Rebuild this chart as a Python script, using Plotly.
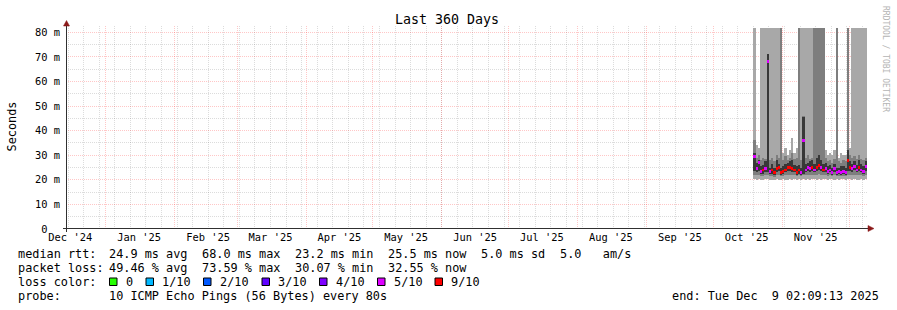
import pandas as pd
import plotly.graph_objects as go

# ---------------- data ----------------
RANGE_START = "2024-12-14 02:09:13"
RANGE_END = "2025-12-09 02:09:13"
FIRST_DAY = "2025-10-19 12:00"          # centre of the first daily sample
Y_MAX = 82.56                            # ms, graph upper edge
TOP = 81.7                               # ms, pings clipped at the graph limit

median_ms = [29.5, 24.5, 27.0, 23.5, 24.0, 24.5, 68.0, 23.5, 24.0, 23.0,
             24.5, 25.0, 23.0, 23.5, 24.0, 25.0, 25.0, 24.5, 24.0, 23.0,
             24.0, 23.0, 36.0, 24.0, 25.0, 24.5, 25.0, 24.0, 25.0, 26.0,
             25.0, 24.0, 24.5, 23.5, 24.0, 23.0, 24.5, 23.0, 23.5, 23.0,
             23.5, 23.0, 28.0, 25.0, 24.5, 25.5, 24.0, 25.0, 24.0, 23.5, 25.5]
loss_pct = [48, 46, 50, 45, 58, 47, 50, 44, 62, 66,
            60, 70, 64, 68, 59, 63, 72, 61, 65, 67,
            60, 48, 50, 46, 45, 49, 57, 47, 60, 64,
            48, 58, 46, 42, 45, 44, 47, 43, 45, 41,
            44, 46, 66, 59, 45, 48, 44, 56, 45, 43, 45]
# outer smoke layer (min .. max ping)
smoke1_lo = [20.5, 20.0, 20.5, 20.0, 19.8, 20.2, 20.5, 20.0, 19.8, 20.0,
             20.3, 19.8, 20.0, 20.5, 20.0, 19.8, 20.2, 20.0, 20.5, 20.0,
             20.2, 19.8, 20.5, 20.0, 20.3, 20.0, 20.5, 20.2, 20.0, 20.3,
             20.0, 20.2, 20.5, 20.0, 20.3, 20.5, 20.0, 20.2, 20.0, 20.5,
             20.3, 20.0, 20.5, 20.2, 20.0, 20.3, 19.8, 20.0, 20.3, 20.0, 20.5]
smoke1_hi = [TOP, 34.0, 33.0, TOP, TOP, TOP, TOP, TOP, TOP, TOP,
             TOP, TOP, TOP, 31.0, 33.0, 30.0, 32.0, 37.0, 31.0, 33.0,
             TOP, TOP, TOP, TOP, TOP, TOP, TOP, TOP, TOP, TOP,
             TOP, TOP, 32.0, 30.0, 31.0, 30.0, 32.0, TOP, 29.0, 31.0,
             30.0, 30.0, TOP, 33.0, TOP, TOP, TOP, TOP, TOP, TOP, TOP]
# middle smoke layer
smoke2_lo = [22.0, 21.8, 22.0, 21.5, 21.5, 21.8, 22.0, 21.5, 21.5, 21.3,
             21.8, 22.0, 21.5, 21.5, 21.8, 22.0, 22.0, 21.8, 21.8, 21.5,
             21.8, 21.5, 22.0, 21.8, 22.0, 21.8, 22.0, 21.8, 22.0, 22.5,
             22.0, 21.8, 22.0, 21.5, 21.8, 21.5, 21.8, 21.5, 21.5, 21.5,
             21.5, 21.5, 22.0, 22.0, 21.8, 22.0, 21.8, 22.0, 21.8, 21.5, 22.0]
smoke2_hi = [36.0, 29.0, 30.0, 28.0, 29.0, 28.5, 71.0, 28.0, 29.0, 27.5,
             30.0, 29.0, TOP, 28.0, 29.5, 28.0, 29.0, 31.0, 28.5, 29.0,
             TOP, 28.0, 46.0, 29.0, 30.0, 28.5, 29.0, TOP, TOP, TOP,
             TOP, TOP, 29.0, 27.5, 28.0, 27.0, 28.5, TOP, 27.5, 27.0,
             28.0, 27.5, TOP, 30.0, 29.0, 29.5, 28.5, 30.0, 28.5, 28.0, 29.0]
# inner (darkest) smoke layer
smoke3_lo = [23.5, 23.0, 23.5, 22.5, 22.5, 23.0, 23.0, 22.5, 22.5, 22.0,
             23.0, 23.5, 22.0, 22.5, 23.0, 23.5, 23.5, 23.0, 23.0, 22.0,
             22.5, 22.0, 22.5, 23.0, 23.5, 23.0, 23.5, 23.0, 23.5, 24.0,
             23.5, 23.0, 23.0, 22.5, 23.0, 22.0, 23.0, 22.0, 22.5, 22.0,
             22.5, 22.0, 23.5, 23.5, 23.0, 24.0, 23.0, 23.5, 23.0, 22.5, 23.5]
smoke3_hi = [31.0, 27.0, 28.0, 25.5, 26.0, 27.5, 71.0, 25.0, 26.5, 25.0,
             28.0, 26.5, 25.0, 25.5, 26.5, 27.0, 27.5, 28.0, 26.0, 25.5,
             26.0, 25.0, 45.5, 26.5, 27.0, 27.5, 28.0, 26.5, 29.0, 30.0,
             28.0, 26.5, 27.0, 25.5, 26.0, 25.0, 26.5, 25.0, 25.0, 25.5,
             25.5, 25.0, 32.0, 27.5, 26.5, 27.5, 26.0, 28.0, 26.5, 25.5, 27.5]

y_ticks = [0, 10, 20, 30, 40, 50, 60, 70, 80]
y_tick_text = ["0\u00a0\u00a0", "10 m", "20 m", "30 m", "40 m", "50 m", "60 m", "70 m", "80 m"]
y_minor = [5, 15, 25, 35, 45, 55, 65, 75]
month_labels = ["Dec '24", "Jan '25", "Feb '25", "Mar '25", "Apr '25", "May '25",
                "Jun '25", "Jul '25", "Aug '25", "Sep '25", "Oct '25", "Nov '25"]

loss_legend = [("0", "#26ff00"), ("1/10", "#00b8ff"), ("2/10", "#0059ff"),
               ("3/10", "#5e00ff"), ("4/10", "#7e00ff"), ("5/10", "#dd00ff"),
               ("9/10", "#ff0000")]
loss_thresholds = [0, 10, 20, 30, 40, 50, 90]

# ---------------- helpers ----------------
FONT = "DejaVu Sans Mono"
W, H = 897, 310
ML, MR, MT, MB = 66, 30, 26, 81
PW, PH = W - ML - MR, H - MT - MB


def PX(x):
    return (x - ML) / PW


def PY(y):
    return (H - MB - y) / PH


def loss_color(p):
    for thr, (_, col) in zip(loss_thresholds, loss_legend):
        if p <= thr:
            return col
    return loss_legend[-1][1]


days = pd.date_range(FIRST_DAY, periods=len(median_ms), freq="D")
DAY_MS = 86400000

month_starts = pd.date_range("2025-01-01", "2025-12-01", freq="MS")
label_pos = pd.date_range("2024-12-01", periods=len(month_labels), freq="MS") + pd.Timedelta(days=15)
sundays = pd.date_range("2024-12-15", "2025-12-08", freq="7D")

fig = go.Figure()


def layer(lo, hi, color, xaxis="x"):
    fig.add_trace(go.Bar(
        x=days, base=lo, y=[h - l for l, h in zip(lo, hi)],
        width=DAY_MS, marker=dict(color=color, line=dict(width=0)),
        hoverinfo="skip", showlegend=False, xaxis=xaxis, yaxis="y"))


layer(smoke1_lo, smoke1_hi, "#a8a8a8")
layer(smoke2_lo, smoke2_hi, "#7e7e7e")
layer(smoke3_lo, smoke3_hi, "#383838")

# median line, coloured by loss
fig.add_trace(go.Bar(
    x=days, base=[m - 0.6 for m in median_ms], y=[1.2] * len(median_ms),
    width=DAY_MS, marker=dict(color=[loss_color(p) for p in loss_pct], line=dict(width=0)),
    hoverinfo="skip", showlegend=False, xaxis="x2", yaxis="y"))

RED_GRID = "rgba(255,0,0,0.22)"
GREY_GRID = "rgba(95,95,95,0.22)"
DASH = "1px,1px"

fig.update_layout(
    width=W, height=H, margin=dict(l=ML, r=MR, t=MT, b=MB, pad=0),
    paper_bgcolor="white", plot_bgcolor="white",
    barmode="overlay", bargap=0,
    font=dict(family=FONT, color="black"),
    xaxis=dict(type="date", range=[RANGE_START, RANGE_END], domain=[0, 1],
               tickmode="array", tickvals=month_starts, showticklabels=False,
               showgrid=True, gridcolor=RED_GRID, griddash=DASH, gridwidth=1,
               ticks="", showline=False, zeroline=False,
               minor=dict(tickmode="array", tickvals=sundays, showgrid=True,
                          gridcolor=GREY_GRID, griddash=DASH, gridwidth=1, ticks="")),
    xaxis2=dict(type="date", overlaying="x", matches="x", anchor="y", side="bottom",
                range=[RANGE_START, RANGE_END],
                tickmode="array", tickvals=label_pos, ticktext=month_labels,
                showgrid=False, ticks="", showline=False, zeroline=False,
                ticklabelstandoff=1,
                tickfont=dict(family=FONT, size=10.4, color="black")),
    yaxis=dict(range=[0, Y_MAX], tickmode="array", tickvals=y_ticks, ticktext=y_tick_text,
               showgrid=True, gridcolor=RED_GRID, griddash=DASH, gridwidth=1,
               ticks="", showline=False, zeroline=False, ticklabelstandoff=5,
               tickfont=dict(family=FONT, size=10.4, color="black"),
               minor=dict(tickmode="array", tickvals=y_minor, showgrid=True,
                          gridcolor=GREY_GRID, griddash=DASH, gridwidth=1, ticks="")),
)

shapes = []
AXIS_COL = "#303030"
ARROW_COL = "#8b1a1a"
# axis lines
shapes.append(dict(type="line", xref="paper", yref="paper",
                   x0=PX(63), x1=PX(869), y0=PY(228.5), y1=PY(228.5),
                   line=dict(color=AXIS_COL, width=1)))
shapes.append(dict(type="line", xref="paper", yref="paper",
                   x0=PX(66.5), x1=PX(66.5), y0=PY(232), y1=PY(25),
                   line=dict(color=AXIS_COL, width=1)))
# arrows
shapes.append(dict(type="path", xref="paper", yref="paper",
                   path=f"M {PX(63.5)} {PY(26)} L {PX(66.5)} {PY(20.5)} L {PX(69.5)} {PY(26)} Z",
                   fillcolor=ARROW_COL, line=dict(color=ARROW_COL, width=0.5)))
shapes.append(dict(type="path", xref="paper", yref="paper",
                   path=f"M {PX(868)} {PY(225.5)} L {PX(874)} {PY(228.5)} L {PX(868)} {PY(231.5)} Z",
                   fillcolor=ARROW_COL, line=dict(color=ARROW_COL, width=0.5)))

ann = []


def text(x, y, s, size=11.85, anchor="left", color="black", angle=0):
    ann.append(dict(xref="paper", yref="paper", x=PX(x), y=PY(y), text=s,
                    showarrow=False, xanchor=anchor, yanchor="middle", textangle=angle,
                    font=dict(family=FONT, size=size, color=color)))


NB = "\u00a0"
text(447, 19.5, "Last 360 Days", size=13.3, anchor="center")
text(11.5, 127, "Seconds", size=11.85, anchor="center", angle=-90)
text(886, 59, "RRDTOOL / TOBI OETIKER", size=8, anchor="center", color="#b4b4b4", angle=90)

row1 = 254
row2 = 268
row3 = 282
row4 = 296
text(16, row1, "median rtt:")
for xx, s in [(107.3, "24.9 ms avg"), (200, "68.0 ms max"), (293.3, "23.2 ms min"),
              (386, "25.5 ms now"), (479, "5.0 ms sd"), (558, f"5.0{NB}{NB}{NB}am/s")]:
    text(xx, row1, s)
text(16, row2, "packet loss:")
for xx, s in [(107.3, "49.46 % avg"), (200, "73.59 % max"), (293.3, "30.07 % min"),
              (386, "32.55 % now")]:
    text(xx, row2, s)
text(16, row3, "loss color:")
sq_x = [109.5, 146, 203.5, 262, 319.5, 377.5, 435]
for (lab, col), sx in zip(loss_legend, sq_x):
    shapes.append(dict(type="rect", xref="paper", yref="paper",
                       x0=PX(sx), x1=PX(sx + 7.5), y0=PY(285.5), y1=PY(278),
                       fillcolor=col, line=dict(color="black", width=1)))
    text(sx + 14, row3, lab)
text(16, row4, "probe:")
text(107.3, row4, "10 ICMP Echo Pings (56 Bytes) every 80s")
text(881, row4, f"end: Tue Dec {NB}9 02:09:13 2025", anchor="right")

fig.update_layout(shapes=shapes, annotations=ann)
fig.write_html("out.html")
